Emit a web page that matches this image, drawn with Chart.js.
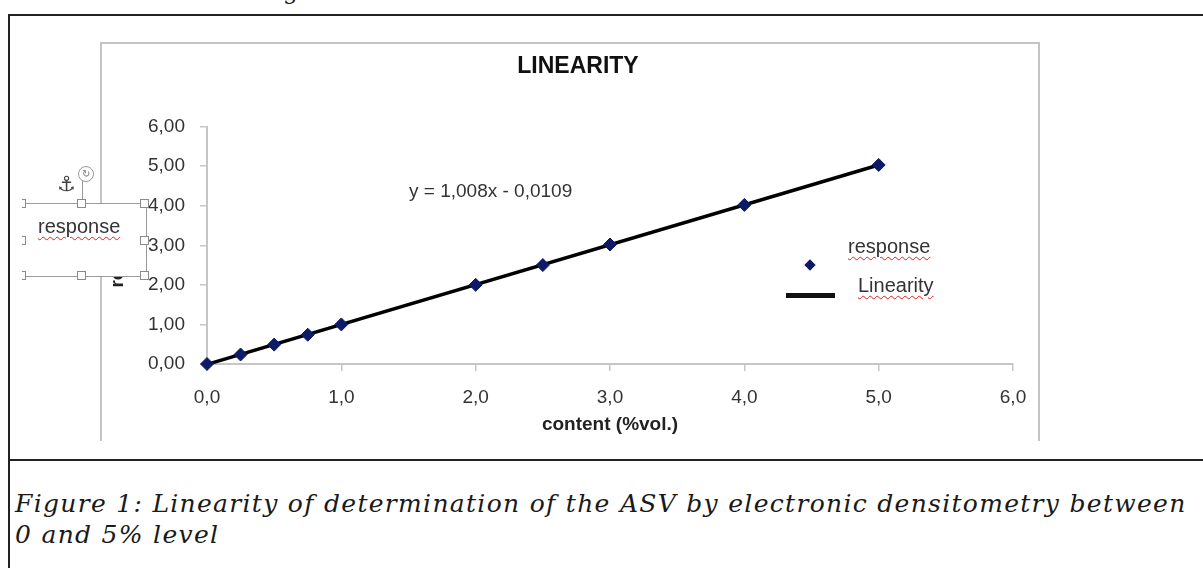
<!DOCTYPE html>
<html>
<head>
<meta charset="utf-8">
<script src="https://cdn.jsdelivr.net/npm/chart.js@4.4.0/dist/chart.umd.min.js"></script>
<style>
body { margin:0; background:#fff; width:1203px; height:568px; overflow:hidden; position:relative; font-family:Arial, "Liberation Sans", sans-serif; }
.abs { position:absolute; }
#outer { left:8px; top:14px; width:1300px; height:600px; border:2px solid #222; }
#sep { left:8px; top:459px; width:1300px; border-top:2px solid #222; }
#frame { left:100px; top:42px; width:936px; height:397px; border:2px solid #c4c4c4; border-bottom:none; }
#wrap { left:101px; top:43px; width:954px; height:397px; }
#caption { left:15px; top:488px; font-family:"DejaVu Serif", serif; font-style:italic; font-size:25px; letter-spacing:1.3px; line-height:31px; color:#1a1a1a; white-space:nowrap; }
.spell { text-decoration:underline wavy #d22; text-decoration-thickness:1px; text-underline-offset:3px; }
.eq { left:409px; top:180px; font-size:19px; color:#333; white-space:nowrap; }
.leg { font-size:20px; color:#333; white-space:nowrap; }
#tbclip { left:22px; top:160px; width:140px; height:130px; overflow:hidden; }
.h { position:absolute; width:9px; height:9px; background:#fff; border:1.5px solid #8a8a8a; box-sizing:border-box; }
</style>
</head>
<body>
<div class="abs" style="left:283px;top:-22px;font-family:'DejaVu Serif',serif;font-size:23px;color:#222;">g</div>
<div id="outer" class="abs"></div>
<div id="sep" class="abs"></div>
<div id="frame" class="abs"></div>
<div id="wrap" class="abs"><canvas id="lin"></canvas></div>

<div class="abs eq">y = 1,008x - 0,0109</div>

<!-- legend -->
<div class="abs leg" style="left:848px;top:235px;"><span class="spell">response</span></div>
<div class="abs" style="left:806px;top:261px;width:8px;height:8px;background:#0d1a66;transform:rotate(45deg);"></div>
<div class="abs" style="left:786px;top:293px;width:49px;height:5px;background:#111;"></div>
<div class="abs leg" style="left:858px;top:274px;"><span class="spell">Linearity</span></div>

<!-- selected text box left of the chart -->
<div id="tbclip" class="abs">
  <div class="abs" style="left:-20px;top:43px;width:143px;height:72px;background:#fff;border:1.5px solid #9a9a9a;"></div>
  <div class="abs" style="left:16px;top:55px;font-size:20px;color:#333;"><span class="spell">response</span></div>
  <div class="abs" style="left:59.5px;top:20px;width:1.5px;height:23px;background:#9a9a9a;"></div>
  <div class="abs" style="left:56px;top:6px;width:14px;height:14px;border:1.5px solid #9a9a9a;border-radius:50%;background:#fff;font-size:10px;line-height:14px;text-align:center;color:#777;">↻</div>
  <div class="abs" style="left:35px;top:12px;font-family:'DejaVu Sans',sans-serif;font-size:21px;color:#444;">⚓</div>
  <div class="h" style="left:-5px;top:39px;"></div>
  <div class="h" style="left:55px;top:39px;"></div>
  <div class="h" style="left:118px;top:39px;"></div>
  <div class="h" style="left:-5px;top:76px;"></div>
  <div class="h" style="left:118px;top:76px;"></div>
  <div class="h" style="left:-5px;top:111px;"></div>
  <div class="h" style="left:55px;top:111px;"></div>
  <div class="h" style="left:118px;top:111px;"></div>
</div>

<div id="caption" class="abs">Figure 1: Linearity of determination of the ASV by electronic densitometry between<br>0 and 5% level</div>

<script>
// content (%vol.) and measured response
var contentVals = [0, 0.25, 0.5, 0.75, 1, 2, 2.5, 3, 4, 5];
var responseVals = [0, 0.24, 0.49, 0.74, 1.0, 2.0, 2.5, 3.02, 4.02, 5.03];
// trend line ends
var fitX = [0, 5];
var fitY = [-0.01, 5.03];

var xTicks = [0, 1, 2, 3, 4, 5, 6];
var yTicks = [0, 1, 2, 3, 4, 5, 6];

var toPts = function(xs, ys) {
	return xs.map(function(x, i) { return {x: x, y: ys[i]}; });
};

var axisGray = '#c6c6c6';
var tickFont = {family: 'Arial', size: 19};

var config = {
type: 'scatter',
data: {
	datasets: [{
		label: 'response',
		data: toPts(contentVals, responseVals),
		pointStyle: 'rectRot',
		pointRadius: 6.5,
		pointHoverRadius: 6.5,
		backgroundColor: '#0d1a66',
		borderColor: '#0d1a66',
		borderWidth: 1,
		clip: false,
		order: 0
	}, {
		label: 'Linearity',
		data: toPts(fitX, fitY),
		showLine: true,
		borderColor: '#000',
		borderWidth: 3.5,
		pointRadius: 0,
		clip: false,
		order: 1
	}]
},
options: {
	responsive: true,
	maintainAspectRatio: false,
	animation: false,
	layout: { padding: 0 },
	plugins: {
		legend: { display: false },
		tooltip: { enabled: false },
		title: {
			display: true,
			text: 'LINEARITY',
			color: '#111',
			font: {family: 'Arial', size: 23, weight: 'bold'},
			padding: {top: 10, bottom: 46}
		}
	},
	scales: {
		x: {
			type: 'linear',
			min: 0,
			max: 6,
			afterBuildTicks: function(s) { s.ticks = xTicks.map(function(v) { return {value: v}; }); },
			afterFit: function(s) { s.height = 76; },
			ticks: {
				color: '#333',
				font: tickFont,
				padding: 15,
				maxRotation: 0,
				callback: function(v) { return v.toFixed(1).replace('.', ','); }
			},
			grid: { drawOnChartArea: false, tickLength: 7, color: axisGray, lineWidth: 1.5 },
			border: { color: axisGray, width: 2 },
			title: {
				display: true,
				text: 'content (%vol.)',
				color: '#222',
				font: {family: 'Arial', size: 19, weight: 'bold'},
				padding: {top: 0, bottom: 4}
			}
		},
		y: {
			type: 'linear',
			min: 0,
			max: 6,
			afterBuildTicks: function(s) { s.ticks = yTicks.map(function(v) { return {value: v}; }); },
			afterFit: function(s) { s.width = 106; },
			ticks: {
				color: '#333',
				font: tickFont,
				padding: 15,
				callback: function(v) { return v.toFixed(2).replace('.', ','); }
			},
			grid: { drawOnChartArea: false, tickLength: 7, color: axisGray, lineWidth: 1.5 },
			border: { color: axisGray, width: 2 },
			title: {
				display: true,
				text: 'response',
				color: '#222',
				font: {family: 'Arial', size: 19, weight: 'bold'},
				padding: {top: 5, bottom: 0}
			}
		},
		// empty right-hand space so the title centres like the original
		pad: {
			type: 'linear',
			position: 'right',
			display: true,
			afterFit: function(s) { s.width = 42; },
			ticks: { display: false },
			grid: { display: false },
			border: { display: false }
		}
	}
}
};

window.onload = function() {
	var ctx = document.getElementById('lin').getContext('2d');
	window.linChart = new Chart(ctx, config);
};
</script>
</body>
</html>
